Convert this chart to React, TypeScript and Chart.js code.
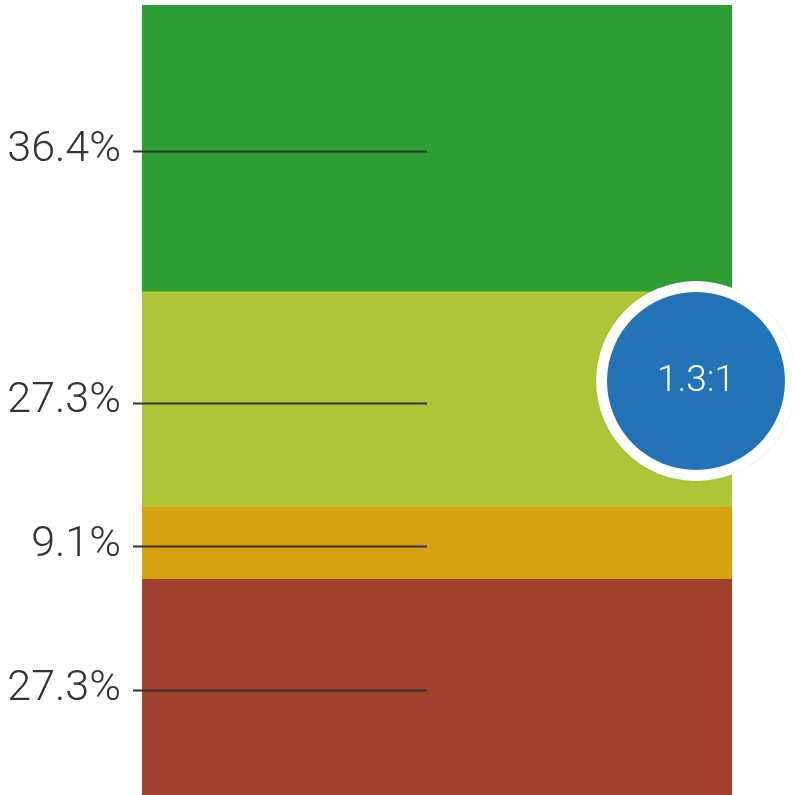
import React, { useEffect, useRef } from "react";
import { Chart, registerables } from "chart.js";

Chart.register(...registerables);

const categories = ["Total"];
const segmentLabels = ["27.3%", "9.1%", "27.3%", "36.4%"];
const segmentValues = [27.3, 9.1, 27.3, 36.4];
const segmentColors = ["#a34131", "#d6a211", "#afc537", "#2d9f35"];
const badgeText = "1.3:1";

const overlayPlugin = {
  id: "overlay",
  afterDatasetsDraw(chart: any) {
    const { ctx, chartArea } = chart;
    const yScale = chart.scales.y;
    ctx.save();
    let cum = 0;
    segmentValues.forEach((v, i) => {
      const mid = cum + v / 2;
      cum += v;
      const yc = yScale.getPixelForValue(mid);
      const y = Math.round(yc + 3) + 0.5;
      ctx.strokeStyle = "#333333";
      ctx.lineWidth = 2;
      ctx.beginPath();
      ctx.moveTo(chartArea.left - 9, y);
      ctx.lineTo(chartArea.left + 285, y);
      ctx.stroke();
      ctx.fillStyle = "#333333";
      ctx.font = "300 43px Roboto";
      ctx.textAlign = "right";
      ctx.textBaseline = "middle";
      ctx.fillText(segmentLabels[i], chartArea.left - 21, yc + 2);
    });
    // badge
    const cx = chartArea.right - 36;
    const cy = chartArea.top + 376;
    ctx.beginPath();
    ctx.arc(cx, cy, 100, 0, Math.PI * 2);
    ctx.fillStyle = "#ffffff";
    ctx.shadowColor = "rgba(0,0,0,0.15)";
    ctx.shadowBlur = 2;
    ctx.fill();
    ctx.shadowColor = "transparent";
    ctx.shadowBlur = 0;
    ctx.beginPath();
    ctx.arc(cx, cy, 89, 0, Math.PI * 2);
    ctx.fillStyle = "#2274b6";
    ctx.fill();
    ctx.fillStyle = "#ffffff";
    ctx.font = "300 37px Roboto";
    ctx.textAlign = "center";
    ctx.textBaseline = "middle";
    ctx.fillText(badgeText, cx, cy + 1);
    ctx.restore();
  },
};

export default function App() {
  const ref = useRef<HTMLCanvasElement>(null);
  useEffect(() => {
    document.body.style.margin = "0";
    const chart = new Chart(ref.current!, {
      type: "bar",
      data: {
        labels: categories,
        datasets: segmentValues.map((v, i) => ({
          label: segmentLabels[i],
          data: [v],
          backgroundColor: segmentColors[i],
          borderWidth: 0,
          barPercentage: 1,
          categoryPercentage: 1,
        })),
      },
      options: {
        animation: false,
        responsive: false,
        maintainAspectRatio: false,
        layout: { padding: { left: 142, right: 61, top: 5, bottom: 0 } },
        plugins: { legend: { display: false }, tooltip: { enabled: false } },
        scales: {
          x: { stacked: true, display: false },
          y: { stacked: true, display: false, min: 0, max: 100 },
        },
      },
      plugins: [overlayPlugin],
    });
    return () => chart.destroy();
  }, []);
  return (
    <div style={{ position: "absolute", left: 0, top: 0, width: 793, height: 795, overflow: "hidden" }}>
      <canvas ref={ref} width={793} height={795} />
    </div>
  );
}
